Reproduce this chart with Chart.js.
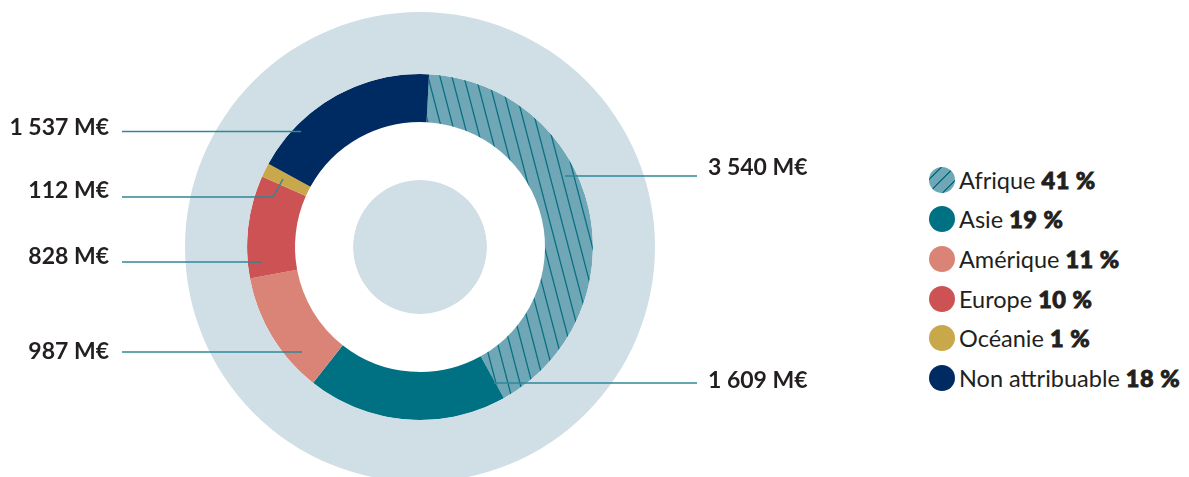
<!DOCTYPE html>
<html lang="fr">
<head>
<meta charset="utf-8">
<script src="https://cdn.jsdelivr.net/npm/chart.js@4"></script>
<style>
  html, body { margin: 0; padding: 0; background: #fff; overflow: hidden; }
  body { width: 1189px; height: 477px; position: relative; font-family: Lato, "Noto Sans", sans-serif; }
  #chart { position: absolute; left: 0; top: 0; }
  #legend { position: absolute; left: 929px; top: 160px; }
  .row { height: 39.6px; display: flex; align-items: center; font-size: 23.5px; color: #231f20; white-space: nowrap; }
  .dot { width: 26px; height: 26px; border-radius: 50%; margin-right: 4px; flex: none; }
  .row b { font-weight: 900; margin-left: 6px; -webkit-text-stroke: 0.9px #231f20; letter-spacing: 0.5px; }
</style>
</head>
<body>
<canvas id="chart" width="840" height="494"></canvas>
<div id="legend"></div>
<script>
// data
const categories = ['Afrique', 'Asie', 'Amérique', 'Europe', 'Océanie', 'Non attribuable'];
const amounts = [3540, 1609, 987, 828, 112, 1537];
const sliceColors = ['#6fa7b6', '#007182', '#da8377', '#cd5253', '#c9a74b', '#002a62'];

const ringColor = '#cfdfe5';
const leaderColor = '#2f8797';

// where the amount labels sit (annotation layout only)
const labelLayout = [
  { side: 'right', textY: 175, lineY: 176, from: 565, to: 697 },
  { side: 'right', textY: 388, lineY: 383, from: 494, to: 697 },
  { side: 'left', textY: 359, lineY: 352, from: 122, to: 302 },
  { side: 'left', textY: 264, lineY: 262, from: 122, to: 262 },
  { side: 'left', textY: 198, lineY: 197, from: 122, to: 273, bend: [283, 179] },
  { side: 'left', textY: 135, lineY: 131.5, from: 122, to: 301 }
];

const total = amounts.reduce((a, b) => a + b, 0);
const percents = amounts.map(v => Math.round(v / total * 100));

function fmt(n) {
  return String(n).replace(/\B(?=(\d{3})+(?!\d))/g, ' ') + ' M€';
}

// hatch for Afrique
function makeHatch() {
  const c = document.createElement('canvas');
  c.width = 12;
  c.height = 46;
  const g = c.getContext('2d');
  g.fillStyle = sliceColors[0];
  g.fillRect(0, 0, 12, 46);
  g.strokeStyle = '#0a6f80';
  g.lineWidth = 1.3;
  for (let dx = -12; dx <= 12; dx += 12) {
    g.beginPath();
    g.moveTo(dx - 12, -46);
    g.lineTo(dx + 24, 92);
    g.stroke();
  }
  return g.createPattern(c, 'repeat');
}

const fills = sliceColors.slice();
fills[0] = makeHatch();

const labelPlugin = {
  id: 'amountLabels',
  afterDraw(chart) {
    const ctx = chart.ctx;
    ctx.save();
    ctx.strokeStyle = leaderColor;
    ctx.lineWidth = 1.4;
    ctx.fillStyle = '#231f20';
    ctx.font = '700 23px Lato, "Noto Sans", sans-serif';
    labelLayout.forEach((l, i) => {
      ctx.beginPath();
      ctx.moveTo(l.from, l.lineY);
      ctx.lineTo(l.to, l.lineY);
      if (l.bend) ctx.lineTo(l.bend[0], l.bend[1]);
      ctx.stroke();
      if (l.side === 'left') {
        ctx.textAlign = 'right';
        ctx.fillText(fmt(amounts[i]), 109, l.textY);
      } else {
        ctx.textAlign = 'left';
        ctx.fillText(fmt(amounts[i]), 708, l.textY);
      }
    });
    ctx.restore();
  }
};

new Chart(document.getElementById('chart'), {
  type: 'doughnut',
  data: {
    labels: categories,
    datasets: [
      { data: [1], backgroundColor: [ringColor], borderWidth: 0, weight: 62 },
      { data: amounts, backgroundColor: fills, borderWidth: 0, weight: 48, rotation: 3 },
      { data: [1], backgroundColor: ['#ffffff'], borderWidth: 0, weight: 58 },
      { data: [1], backgroundColor: [ringColor], borderWidth: 0, weight: 67 }
    ]
  },
  options: {
    responsive: false,
    animation: false,
    cutout: 0,
    layout: { padding: { top: 12, bottom: 12, left: 0, right: 0 } },
    plugins: { legend: { display: false }, tooltip: { enabled: false } }
  },
  plugins: [labelPlugin]
});

// legend
const legend = document.getElementById('legend');
categories.forEach((name, i) => {
  const row = document.createElement('div');
  row.className = 'row';
  const dot = document.createElement('span');
  dot.className = 'dot';
  if (i === 0) {
    dot.style.background = 'repeating-linear-gradient(135deg, ' + sliceColors[0] + ' 0 8px, #0a6f80 8px 9.5px)';
  } else {
    dot.style.background = sliceColors[i];
  }
  row.appendChild(dot);
  row.appendChild(document.createTextNode(name));
  const b = document.createElement('b');
  b.textContent = percents[i] + ' %';
  row.appendChild(b);
  legend.appendChild(row);
});
</script>
</body>
</html>
